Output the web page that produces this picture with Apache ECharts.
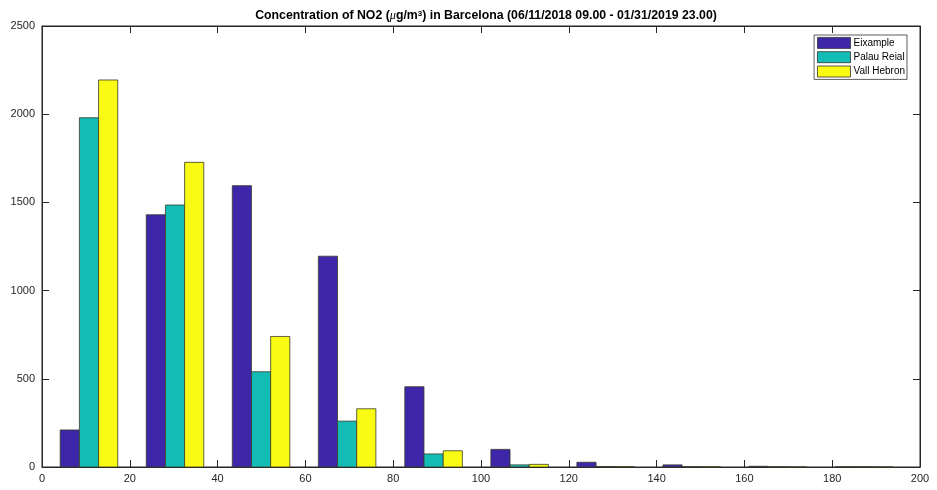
<!DOCTYPE html>
<html><head><meta charset="utf-8">
<script src="https://cdn.jsdelivr.net/npm/echarts@6/dist/echarts.min.js"></script>
<style>html,body{margin:0;padding:0;background:#fff}#c{width:937px;height:490px}</style>
</head><body><div id="c"></div>
<script>
const binCenters = [10.7, 30.3, 49.9, 69.5, 89.2, 108.8, 128.4, 148.0, 167.6, 187.3];
const seriesNames = ['Eixample', 'Palau Reial', 'Vall Hebron'];
const eixample   = [210, 1430, 1595, 1195, 455, 100, 27, 12, 4, 1];
const palauReial = [1980, 1485, 540, 260, 74, 12, 3, 2, 1, 1];
const vallHebron = [2194, 1727, 740, 330, 92, 15, 2, 1, 0, 0];
const colors = ['#3e26a8', '#13bdb6', '#f9fb15'];
const xTicks = [0, 20, 40, 60, 80, 100, 120, 140, 160, 180, 200];
const yTicks = [0, 500, 1000, 1500, 2000, 2500];

const barW = 4.37;
const allData = [eixample, palauReial, vallHebron];

function makeSeries(idx) {
  return {
    type: 'custom',
    name: seriesNames[idx],
    xAxisIndex: 0, yAxisIndex: 0,
    data: binCenters.map((c, i) => [c, allData[idx][i]]),
    itemStyle: { color: colors[idx] },
    renderItem: function (params, api) {
      const c = api.value(0), v = api.value(1);
      const x0 = c - 1.5 * barW + idx * barW;
      const p0 = api.coord([x0, v]);
      const p1 = api.coord([x0 + barW, 0]);
      return {
        type: 'rect',
        shape: { x: p0[0], y: p0[1], width: p1[0] - p0[0], height: p1[1] - p0[1] },
        style: { fill: colors[idx], stroke: '#3a3a2a', lineWidth: 0.8 }
      };
    }
  };
}

const axisFont = { fontFamily: 'Liberation Sans, Arial, sans-serif', fontSize: 11, color: '#262626' };
const lineStyle = { show: true, onZero: false, lineStyle: { color: '#262626' } };
const tickStyle = { show: true, inside: true, length: 7, lineStyle: { color: '#262626' } };
const chart = echarts.init(document.getElementById('c'), null, { renderer: 'canvas' });
chart.setOption({
  animation: false,
  backgroundColor: '#fff',
  title: {
    text: 'Concentration of NO2 ({mu|μ}g/m{sup|3}) in Barcelona (06/11/2018 09.00 - 01/31/2019 23.00)',
    left: 481, textAlign: 'center', top: 5,
    textStyle: {
      fontFamily: 'Liberation Sans, Arial, sans-serif', fontSize: 12.3, fontWeight: 'bold', color: '#000',
      rich: {
        mu: { fontSize: 12.3, fontStyle: 'italic', fontWeight: 'normal', fontFamily: 'Liberation Serif, serif' },
        sup: { fontSize: 8, fontWeight: 'bold', verticalAlign: 'top', lineHeight: 10, padding: [0, 0, 6, 0] }
      }
    }
  },
  legend: {
    right: 30, top: 35, orient: 'vertical',
    itemWidth: 33, itemHeight: 11, itemGap: 2.5,
    backgroundColor: '#fff', borderColor: '#333', borderWidth: 0.8,
    padding: [2, 2, 2, 3],
    textStyle: { fontFamily: 'Liberation Sans, Arial, sans-serif', fontSize: 10, lineHeight: 11, color: '#000', padding: [0, 0, 0, -2] },
    data: seriesNames.map((n, i) => ({ name: n, icon: 'rect', itemStyle: { color: colors[i], borderColor: '#333', borderWidth: 0.8 } }))
  },
  grid: { left: 42, right: 17, top: 26, bottom: 23, show: true, borderColor: '#262626', borderWidth: 1 },
  xAxis: [
    { type: 'value', min: 0, max: 200, interval: 20, position: 'bottom',
      axisLine: lineStyle, axisTick: tickStyle,
      axisLabel: Object.assign({ margin: 6, formatter: v => xTicks.includes(v) ? String(v) : '' }, axisFont),
      splitLine: { show: false } },
    { type: 'value', min: 0, max: 200, interval: 20, position: 'top',
      axisLine: lineStyle, axisTick: tickStyle,
      axisLabel: { show: false }, splitLine: { show: false } }
  ],
  yAxis: [
    { type: 'value', min: 0, max: 2500, interval: 500, position: 'left',
      axisLine: lineStyle, axisTick: tickStyle,
      axisLabel: Object.assign({ margin: 7, formatter: v => yTicks.includes(v) ? String(v) : '' }, axisFont),
      splitLine: { show: false } },
    { type: 'value', min: 0, max: 2500, interval: 500, position: 'right',
      axisLine: lineStyle, axisTick: tickStyle,
      axisLabel: { show: false }, splitLine: { show: false } }
  ],
  series: [makeSeries(0), makeSeries(1), makeSeries(2)]
});
</script></body></html>
